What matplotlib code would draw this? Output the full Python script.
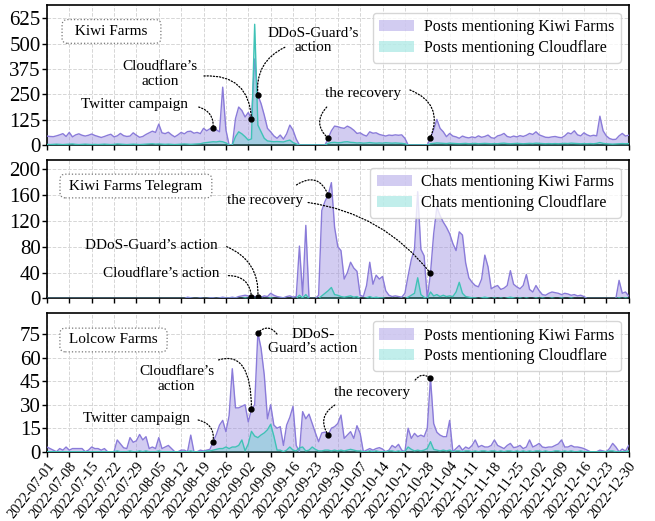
import matplotlib
matplotlib.use('Agg')
import matplotlib.pyplot as plt
import matplotlib.dates as mdates
import pandas as pd

plt.rcParams['font.family'] = 'serif'
plt.rcParams['font.serif'] = ['Liberation Serif', 'DejaVu Serif']
plt.rcParams['font.size'] = 11

# daily values, 2022-07-01 .. 2022-12-30
dates = pd.date_range('2022-07-01', '2022-12-30', freq='D')
week_ticks = pd.date_range('2022-07-01', '2022-12-30', freq='7D')

# Kiwi Farms forum posts
kf_posts_kf = [
    44, 42, 41, 45, 50, 56, 42, 62, 40, 50,
    55, 48, 44, 48, 54, 47, 42, 37, 42, 48,
    53, 40, 45, 57, 46, 42, 44, 60, 48, 38,
    42, 52, 60, 68, 62, 103, 60, 56, 63, 50,
    40, 50, 62, 55, 66, 68, 58, 62, 56, 82,
    70, 80, 85, 75, 65, 285, 75, 0, 0, 130,
    187, 170, 138, 160, 127, 424, 245, 204, 147, 82,
    65, 45, 33, 49, 29, 55, 98, 73, 29, 0,
    0, 0, 0, 0, 0, 0, 0, 0, 33, 70,
    93, 90, 85, 82, 93, 85, 73, 57, 60, 50,
    44, 65, 58, 60, 52, 48, 44, 49, 47, 50,
    48, 50, 33, 0, 0, 0, 0, 0, 0, 0,
    36, 75, 126, 82, 65, 41, 57, 44, 40, 33,
    44, 38, 35, 40, 36, 45, 38, 42, 49, 36,
    33, 45, 49, 57, 42, 38, 44, 40, 46, 42,
    48, 57, 52, 65, 50, 44, 38, 37, 40, 42,
    38, 36, 45, 60, 55, 70, 50, 45, 60, 50,
    44, 48, 45, 142, 70, 45, 32, 27, 28, 45,
    57, 44, 48]
kf_posts_cf = [
    3, 2, 3, 4, 3, 2, 3, 4, 5, 3,
    2, 3, 4, 3, 2, 3, 2, 3, 4, 3,
    2, 3, 5, 4, 3, 2, 3, 4, 3, 2,
    3, 4, 5, 6, 4, 5, 4, 3, 4, 3,
    2, 3, 4, 5, 4, 3, 4, 5, 6, 10,
    12, 14, 16, 15, 18, 16, 10, 0, 0, 41,
    65, 55, 41, 24, 30, 595, 98, 65, 33, 20,
    18, 16, 17, 16, 15, 20, 24, 12, 5, 0,
    0, 0, 0, 0, 0, 0, 0, 0, 8, 12,
    13, 11, 12, 15, 16, 13, 12, 10, 11, 9,
    10, 12, 10, 9, 10, 9, 11, 10, 9, 10,
    9, 8, 6, 0, 0, 0, 0, 0, 0, 0,
    6, 8, 10, 9, 8, 7, 9, 8, 7, 6,
    7, 8, 6, 7, 8, 6, 7, 8, 7, 6,
    7, 6, 8, 9, 7, 6, 7, 8, 7, 6,
    7, 8, 7, 9, 8, 7, 6, 7, 6, 7,
    6, 7, 8, 7, 9, 8, 7, 6, 7, 6,
    7, 6, 8, 12, 8, 6, 5, 4, 5, 6,
    7, 6, 7]

# Kiwi Farms Telegram chats
tg_chats_kf = [
    0, 0, 0, 0, 0, 0, 0, 0, 0, 0,
    0, 0, 0, 0, 0, 0, 0, 0, 0, 0,
    0, 0, 0, 0, 0, 0, 0, 0, 0, 0,
    0, 0, 0, 0, 0, 0, 0, 0, 0, 0,
    0, 0, 0, 0, 2, 1, 0, 0, 1, 0,
    0, 1, 1, 0, 1, 2, 1, 1, 2, 1,
    3, 4, 5, 4, 3, 3, 3, 2, 4, 3,
    8, 5, 3, 2, 1, 3, 4, 2, 3, 81,
    5, 113, 0, 0, 0, 5, 136, 150, 160, 179,
    110, 80, 74, 30, 40, 56, 47, 42, 5, 3,
    20, 56, 22, 36, 30, 34, 12, 5, 3, 4,
    3, 2, 8, 35, 60, 76, 165, 76, 66, 0,
    39, 100, 141, 128, 118, 110, 100, 85, 74, 103,
    98, 55, 32, 25, 20, 18, 30, 67, 49, 15,
    18, 20, 14, 16, 20, 43, 22, 18, 15, 20,
    37, 14, 10, 20, 12, 6, 5, 8, 10, 9,
    8, 6, 8, 7, 5, 6, 4, 5, 3, 0,
    0, 0, 0, 0, 0, 0, 0, 0, 0, 28,
    8, 10, 4]
tg_chats_cf = [
    0, 0, 0, 0, 0, 0, 0, 0, 0, 0,
    0, 0, 0, 0, 0, 0, 0, 0, 0, 0,
    0, 0, 0, 0, 0, 0, 0, 0, 0, 0,
    0, 0, 0, 0, 0, 0, 0, 0, 0, 0,
    0, 0, 0, 0, 0, 0, 0, 0, 0, 0,
    0, 0, 0, 0, 0, 0, 0, 0, 0, 0,
    0, 0, 1, 0, 0, 1, 0, 0, 0, 0,
    1, 0, 0, 0, 0, 0, 0, 0, 0, 5,
    1, 6, 0, 0, 0, 0, 4, 8, 12, 17,
    6, 5, 3, 2, 3, 4, 2, 3, 0, 0,
    1, 3, 1, 2, 1, 1, 0, 0, 0, 0,
    0, 0, 0, 2, 5, 8, 32, 6, 2, 0,
    10, 4, 6, 3, 5, 3, 4, 3, 10, 25,
    8, 3, 2, 1, 1, 0, 1, 2, 1, 0,
    1, 0, 1, 0, 1, 2, 1, 0, 1, 0,
    1, 0, 0, 1, 0, 1, 0, 0, 1, 0,
    0, 1, 0, 0, 1, 0, 0, 0, 0, 0,
    0, 0, 0, 0, 0, 0, 0, 0, 0, 1,
    0, 1, 0]

# Lolcow Farms forum posts
lc_posts_kf = [
    3, 2, 1, 0, 2, 1, 3, 1, 2, 2,
    2, 2, 0, 1, 3, 2, 2, 1, 2, 0,
    0, 0, 7.5, 5, 2.5, 2, 9, 6, 7, 11,
    7.5, 9.6, 2, 3, 2, 9, 2, 3, 4, 2,
    0, 0, 1, 1, 0, 10.6, 0, 0, 1, 0.5,
    1, 1.5, 6.4, 11, 17, 20, 12.8, 23, 53, 28,
    28, 29, 30, 19, 27, 30, 76, 66, 49, 21,
    30, 17, 15, 16, 4, 17, 22, 29, 4, 0,
    25.6, 21, 24, 18, 12, 6.4, 12, 12.5, 10.6, 15,
    16, 18, 23.4, 8.5, 10.6, 12.8, 8.5, 16.6, 11.7, 0,
    1, 2, 1, 2, 2.6, 1.7, 0, 1, 4, 2.6,
    4.7, 1, 0, 15, 8.5, 11.7, 9.6, 10.6, 9.6, 15,
    47, 18, 12.4, 10.6, 9.6, 9.6, 20, 0, 2, 4,
    1, 3, 2, 4, 7.5, 3, 4, 3, 3, 4,
    7.5, 4, 3, 2, 4, 5.3, 2.6, 3, 4, 2,
    3, 7.5, 3, 4, 5.3, 3, 2.6, 3, 3, 4,
    5, 7.5, 3, 3, 4, 3, 3, 2.6, 2, 1,
    0, 0, 0, 1, 0.5, 0, 2, 5.3, 3, 0,
    1.7, 0.4, 4]
lc_posts_cf = [
    0, 0, 0, 0, 0, 0, 0, 0, 0, 0,
    0, 0, 0, 0, 0, 0, 0, 0, 0, 0,
    0, 0, 0.5, 0, 0, 0, 0.5, 0, 0, 0.5,
    0, 0.5, 0, 0, 0, 0.5, 0, 0, 0, 0,
    0, 0, 0, 0, 0, 0.5, 0, 0, 0, 0,
    0.5, 0.5, 1, 1.5, 2, 2, 3, 2, 3, 3,
    4, 7.5, 0.5, 5, 13, 10, 9, 10.7, 12, 14,
    17.5, 10, 1, 1, 0, 1, 3, 1, 0.5, 2.5,
    3, 0.5, 1, 3, 1.5, 0.5, 0.5, 1, 1, 0.5,
    1, 0.5, 1, 0.5, 1, 1.5, 1, 0.5, 0.5, 0,
    0, 0.5, 0, 0.5, 0, 0, 0, 0.5, 0.5, 0,
    0.5, 0, 0, 3, 1.5, 0.5, 1, 0.5, 1, 2,
    6.4, 1.5, 1, 0.5, 1, 0.5, 1, 0, 0.5, 0.5,
    0, 0.5, 0.5, 0, 0.5, 0, 0.5, 0.5, 0, 0.5,
    0.5, 0, 0.5, 0, 0.5, 0.5, 0, 0.5, 0, 0.5,
    0, 0.5, 0, 0.5, 0.5, 0, 0.5, 0, 0, 0.5,
    0.5, 0, 0.5, 0, 0.5, 0, 0, 0.5, 0, 0,
    0, 0, 0, 0, 0, 0, 0.5, 0.5, 0, 0,
    0, 0, 0.5]

events = {
    'twitter': '2022-08-22',
    'cloudflare': '2022-09-03',
    'ddos': '2022-09-05',
    'recovery1': '2022-09-27',
    'recovery2': '2022-10-29',
}

PURPLE_LINE = '#8a7bd9'
PURPLE_FILL = '#9d8fe0'
CYAN_LINE = '#3fc2b6'
CYAN_FILL = '#4fd0c8'

# panel settings: (kf, cf, legend labels, ylim top, yticks, panel name, name box pos)
panels = [
    (kf_posts_kf, kf_posts_cf,
     ['Posts mentioning Kiwi Farms', 'Posts mentioning Cloudflare'],
     690, range(0, 626, 125), '  Kiwi Farms  ', (0.111, 0.811)),
    (tg_chats_kf, tg_chats_cf,
     ['Chats mentioning Kiwi Farms', 'Chats mentioning Cloudflare'],
     214, range(0, 201, 40), ' Kiwi Farms Telegram ', (0.153, 0.812)),
    (lc_posts_kf, lc_posts_cf,
     ['Posts mentioning Kiwi Farms', 'Posts mentioning Cloudflare'],
     88.4, range(0, 76, 15), ' Lolcow Farms ', (0.1145, 0.807)),
]

# annotations per panel: text, text pos (axes fraction), list of (event, arrow start, rad)
notes = [
    [
        ('Twitter campaign', (0.151, 0.286), [('twitter', (0.261, 0.271), -0.4)]),
        ('Cloudflare\u2019s\naction', (0.195, 0.507), [('cloudflare', (0.270, 0.493), -0.5)]),
        ('DDoS-Guard\u2019s\naction', (0.458, 0.746), [('ddos', (0.409, 0.698), 0.35)]),
        ('the recovery', (0.544, 0.371), [('recovery1', (0.481, 0.271), 0.5),
                                          ('recovery2', (0.624, 0.393), -0.5)]),
    ],
    [
        ('the recovery', (0.375, 0.711), [('recovery1', (0.429, 0.820), -0.6),
                                          ('recovery2', (0.449, 0.693), -0.2)]),
        ('DDoS-Guard\u2019s action', (0.180, 0.386), [('ddos', (0.309, 0.374), -0.35)]),
        ('Cloudflare\u2019s action', (0.197, 0.184), [('cloudflare', (0.312, 0.165), -0.45)]),
    ],
    [
        ('Twitter campaign', (0.154, 0.243), [('twitter', (0.260, 0.229), -0.45)]),
        ('Cloudflare\u2019s\naction', (0.223, 0.525), [('cloudflare', (0.295, 0.663), 'angle')]),
        ('DDoS-\nGuard\u2019s action', (0.457, 0.796), [('ddos', (0.3955, 0.850), 0.55)]),
        ('the recovery', (0.558, 0.429), [('recovery1', (0.495, 0.337), 0.5),
                                          ('recovery2', (0.633, 0.518), -0.5)]),
    ],
]

fig = plt.figure(figsize=(6.55, 5.21), dpi=100)
axes_rects = [
    [0.0716, 0.7217, 0.8882, 0.2687],
    [0.0716, 0.4271, 0.8882, 0.2658],
    [0.0716, 0.1330, 0.8882, 0.2657],
]

for i, (kf, cf, labels, ytop, yticks, name, name_pos) in enumerate(panels):
    ax = fig.add_axes(axes_rects[i])
    ax.fill_between(dates, kf, color=PURPLE_FILL, alpha=0.45, lw=0,
                    label=labels[0], zorder=2)
    ax.plot(dates, kf, color=PURPLE_LINE, lw=1.0, zorder=3)
    ax.fill_between(dates, cf, color=CYAN_FILL, alpha=0.35, lw=0,
                    label=labels[1], zorder=4)
    ax.plot(dates, cf, color=CYAN_LINE, lw=1.0, zorder=5)

    ax.set_xlim(dates[0], dates[-1])
    ax.set_ylim(0, ytop)
    ax.set_yticks(list(yticks))
    ax.set_xticks(week_ticks)
    if i == 2:
        ax.set_xticklabels([d.strftime('%Y-%m-%d') for d in week_ticks],
                           rotation=52, ha='right', rotation_mode='anchor',
                           fontsize=10.5)
    else:
        ax.set_xticklabels([])
    ax.tick_params(axis='y', labelsize=15, length=3.5, width=1, pad=1)
    ax.tick_params(axis='x', length=3.5, width=1, pad=2)
    ax.grid(True, color='#d6d6d6', ls='--', lw=0.7)
    ax.set_axisbelow(True)
    for sp in ax.spines.values():
        sp.set_linewidth(1.2)

    ax.legend(loc='upper right', fontsize=11.5, handlelength=2.2,
              handletextpad=0.6, labelspacing=0.3, borderpad=0.4)

    ax.text(name_pos[0], name_pos[1], name, transform=ax.transAxes,
            ha='center', va='center', fontsize=11, zorder=8,
            bbox=dict(boxstyle='round,pad=0.35', fc='white', ec='#777777',
                      ls=':', lw=0.9))

    series = pd.Series(kf, index=dates)
    for text, tpos, arrows in notes[i]:
        ax.text(tpos[0], tpos[1], text, transform=ax.transAxes, ha='center',
                va='center', fontsize=11, linespacing=1.15, zorder=8)
        for ev, start, rad in arrows:
            d = pd.Timestamp(events[ev])
            x = mdates.date2num(d)
            y = series[d]
            if rad == 'angle':
                cs = 'angle3,angleA=17,angleB=90'
            else:
                cs = 'arc3,rad=%s' % rad
            ax.annotate('', xy=(x, y), xycoords='data', xytext=start,
                        textcoords='axes fraction', zorder=7,
                        arrowprops=dict(arrowstyle='-', color='black', lw=0.9,
                                        ls=(0, (1, 1.5)), shrinkA=0, shrinkB=0,
                                        connectionstyle=cs))
            ax.plot(x, y, 'o', color='black', ms=3.5, zorder=9)

fig.savefig('out.png', dpi=100)
